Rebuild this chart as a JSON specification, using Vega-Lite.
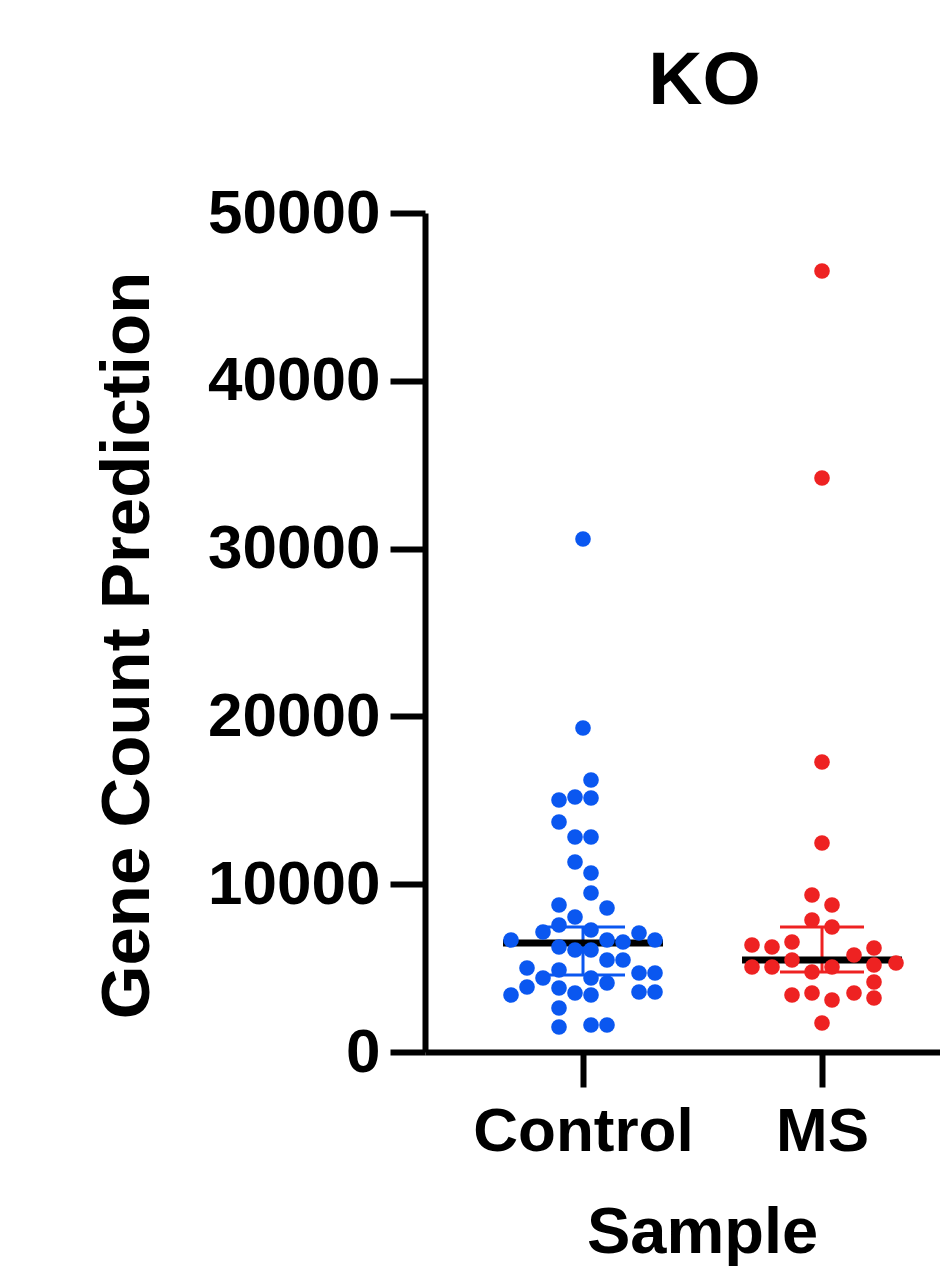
{
  "$schema": "https://vega.github.io/schema/vega-lite/v6.json",
  "width": 515,
  "height": 839,
  "autosize": {"type": "none"},
  "padding": {"left": 425, "top": 213, "right": 0, "bottom": 215},
  "background": "white",
  "title": {
    "text": "KO",
    "font": "Liberation Sans",
    "fontWeight": "bold",
    "fontSize": 75,
    "color": "black",
    "anchor": "middle",
    "frame": "group",
    "dx": 22,
    "offset": 62
  },
  "config": {
    "view": {"stroke": null},
    "axis": {
      "grid": false,
      "domainColor": "black",
      "domainWidth": 6,
      "tickColor": "black",
      "tickWidth": 6,
      "tickSize": 35,
      "labelFont": "Liberation Sans",
      "labelFontWeight": "bold",
      "labelFontSize": 62,
      "labelColor": "black",
      "labelLimit": 0,
      "titleFont": "Liberation Sans",
      "titleFontWeight": "bold",
      "titleFontSize": 67,
      "titleColor": "black"
    }
  },
  "datasets": {
    "points": [
      {"Sample": "Control", "value": 30572, "offset": 0},
      {"Sample": "Control", "value": 19309, "offset": 0},
      {"Sample": "Control", "value": 16210, "offset": 0.5},
      {"Sample": "Control", "value": 15018, "offset": -1.5},
      {"Sample": "Control", "value": 15197, "offset": -0.5},
      {"Sample": "Control", "value": 15137, "offset": 0.5},
      {"Sample": "Control", "value": 13707, "offset": -1.5},
      {"Sample": "Control", "value": 12813, "offset": -0.5},
      {"Sample": "Control", "value": 12813, "offset": 0.5},
      {"Sample": "Control", "value": 11323, "offset": -0.5},
      {"Sample": "Control", "value": 10668, "offset": 0.5},
      {"Sample": "Control", "value": 9476, "offset": 0.5},
      {"Sample": "Control", "value": 8760, "offset": -1.5},
      {"Sample": "Control", "value": 8582, "offset": 1.5},
      {"Sample": "Control", "value": 8045, "offset": -0.5},
      {"Sample": "Control", "value": 7569, "offset": -1.5},
      {"Sample": "Control", "value": 7151, "offset": -2.5},
      {"Sample": "Control", "value": 7271, "offset": 0.5},
      {"Sample": "Control", "value": 6675, "offset": -4.5},
      {"Sample": "Control", "value": 7092, "offset": 3.5},
      {"Sample": "Control", "value": 6675, "offset": 4.5},
      {"Sample": "Control", "value": 6675, "offset": 1.5},
      {"Sample": "Control", "value": 6555, "offset": 2.5},
      {"Sample": "Control", "value": 6257, "offset": -1.5},
      {"Sample": "Control", "value": 6079, "offset": -0.5},
      {"Sample": "Control", "value": 6079, "offset": 0.5},
      {"Sample": "Control", "value": 5483, "offset": 1.5},
      {"Sample": "Control", "value": 5483, "offset": 2.5},
      {"Sample": "Control", "value": 5006, "offset": -3.5},
      {"Sample": "Control", "value": 4887, "offset": -1.5},
      {"Sample": "Control", "value": 4410, "offset": -2.5},
      {"Sample": "Control", "value": 4410, "offset": 0.5},
      {"Sample": "Control", "value": 4112, "offset": 1.5},
      {"Sample": "Control", "value": 4708, "offset": 3.5},
      {"Sample": "Control", "value": 4708, "offset": 4.5},
      {"Sample": "Control", "value": 3874, "offset": -3.5},
      {"Sample": "Control", "value": 3397, "offset": -4.5},
      {"Sample": "Control", "value": 3814, "offset": -1.5},
      {"Sample": "Control", "value": 3516, "offset": -0.5},
      {"Sample": "Control", "value": 3397, "offset": 0.5},
      {"Sample": "Control", "value": 3576, "offset": 3.5},
      {"Sample": "Control", "value": 3576, "offset": 4.5},
      {"Sample": "Control", "value": 2622, "offset": -1.5},
      {"Sample": "Control", "value": 1490, "offset": -1.5},
      {"Sample": "Control", "value": 1609, "offset": 0.5},
      {"Sample": "Control", "value": 1609, "offset": 1.5},
      {"Sample": "MS", "value": 46544, "offset": 0},
      {"Sample": "MS", "value": 34208, "offset": 0},
      {"Sample": "MS", "value": 17283, "offset": 0},
      {"Sample": "MS", "value": 12455, "offset": 0},
      {"Sample": "MS", "value": 9356, "offset": -0.625},
      {"Sample": "MS", "value": 8760, "offset": 0.625},
      {"Sample": "MS", "value": 7867, "offset": -0.625},
      {"Sample": "MS", "value": 7449, "offset": 0.625},
      {"Sample": "MS", "value": 6377, "offset": -4.375},
      {"Sample": "MS", "value": 6257, "offset": -3.125},
      {"Sample": "MS", "value": 6555, "offset": -1.875},
      {"Sample": "MS", "value": 5781, "offset": 2.0},
      {"Sample": "MS", "value": 6198, "offset": 3.25},
      {"Sample": "MS", "value": 5066, "offset": -4.375},
      {"Sample": "MS", "value": 5066, "offset": -3.125},
      {"Sample": "MS", "value": 5483, "offset": -1.875},
      {"Sample": "MS", "value": 4768, "offset": -0.625},
      {"Sample": "MS", "value": 5066, "offset": 0.625},
      {"Sample": "MS", "value": 5185, "offset": 3.25},
      {"Sample": "MS", "value": 5304, "offset": 4.625},
      {"Sample": "MS", "value": 4172, "offset": 3.25},
      {"Sample": "MS", "value": 3397, "offset": -1.875},
      {"Sample": "MS", "value": 3516, "offset": -0.625},
      {"Sample": "MS", "value": 3099, "offset": 0.625},
      {"Sample": "MS", "value": 3516, "offset": 2.0},
      {"Sample": "MS", "value": 3218, "offset": 3.25},
      {"Sample": "MS", "value": 1728, "offset": 0}
    ],
    "summary": [
      {"Sample": "Control", "median": 6496, "lo": 4589, "hi": 7450},
      {"Sample": "MS", "median": 5483, "lo": 4768, "hi": 7449}
    ]
  },
  "encoding": {
    "x": {
      "field": "Sample",
      "type": "nominal",
      "sort": ["Control", "MS"],
      "scale": {"type": "point", "padding": 0.5774, "align": 0.5725},
      "axis": {"labelAngle": 0, "labelPadding": 14, "titlePadding": 39, "titleX": 277, "titleFontSize": 65},
      "title": "Sample"
    },
    "color": {
      "field": "Sample",
      "type": "nominal",
      "scale": {"domain": ["Control", "MS"], "range": ["#0a57f0", "#ee2222"]},
      "legend": null
    }
  },
  "layer": [
    {
      "data": {"name": "summary"},
      "mark": {"type": "rule", "strokeWidth": 3, "opacity": 1},
      "encoding": {
        "y": {"field": "lo", "type": "quantitative", "title": "Gene Count Prediction"},
        "y2": {"field": "hi"}
      }
    },
    {
      "data": {"name": "summary"},
      "mark": {"type": "tick", "size": 84, "thickness": 3, "opacity": 1},
      "encoding": {
        "y": {"field": "lo", "type": "quantitative", "title": "Gene Count Prediction"}
      }
    },
    {
      "data": {"name": "summary"},
      "mark": {"type": "tick", "size": 84, "thickness": 3, "opacity": 1},
      "encoding": {
        "y": {"field": "hi", "type": "quantitative", "title": "Gene Count Prediction"}
      }
    },
    {
      "data": {"name": "summary"},
      "mark": {"type": "tick", "size": 160, "thickness": 7, "opacity": 1},
      "encoding": {
        "y": {"field": "median", "type": "quantitative", "title": "Gene Count Prediction"},
        "color": {"value": "black"}
      }
    },
    {
      "data": {"name": "points"},
      "mark": {"type": "circle", "size": 245, "opacity": 1},
      "encoding": {
        "xOffset": {"field": "offset", "type": "quantitative", "scale": {"domain": [-1, 1], "range": [-16, 16]}},
        "y": {
          "field": "value",
          "type": "quantitative",
          "title": "Gene Count Prediction",
          "scale": {"domain": [0, 50000], "nice": false, "zero": true},
          "axis": {"values": [0, 10000, 20000, 30000, 40000, 50000], "format": "d", "labelPadding": 10, "titlePadding": 63, "titleY": 432, "titleFontSize": 69}
        }
      }
    }
  ]
}
